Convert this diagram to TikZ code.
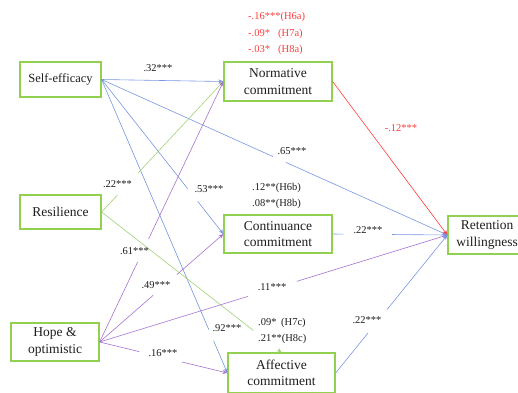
\documentclass[tikz,border=0pt]{standalone}
\usepackage{fontspec}
\setmainfont{Liberation Serif}
\newfontfamily\tnr{Liberation Serif}
\usetikzlibrary{calc,arrows.meta}
\definecolor{boxgreen}{RGB}{146,208,80}
\definecolor{lblue}{RGB}{120,150,225}
\definecolor{lpurple}{RGB}{165,115,210}
\definecolor{lgreen}{RGB}{160,210,115}
\definecolor{lred}{RGB}{255,60,60}
\definecolor{txt}{RGB}{30,30,30}
\newcommand\gapd[5]{%
  \draw[lnk,#1] (#2) -- ($(#2)!#4!(#3)$);
  \draw[lnk,#1,arr] ($(#2)!#5!(#3)$) -- (#3);
}
\begin{document}
\begin{tikzpicture}[x=1pt,y=-1pt,
  varbox/.style={draw=boxgreen, line width=1.2pt, fill=white, inner sep=0pt,
    align=center, font=\tnr\fontsize{13.5}{16.5}\selectfont, text=txt},
  coef/.style={font=\tnr\fontsize{10.5}{12}\selectfont, text=txt, inner sep=0pt},
  arr/.style={-{Stealth[length=5pt,width=4pt]}},
  lnk/.style={line width=0.6pt}]
\useasboundingbox (0,0) rectangle (518,392);
\clip (0,0) rectangle (518,392);

\node[varbox, minimum width=81pt, minimum height=35pt, font=\tnr\fontsize{12.5}{15}\selectfont] (se) at (60.5,79.5) {Self-efficacy};
\node[varbox, minimum width=81pt, minimum height=34pt] (re) at (60.5,212) {Resilience};
\node[varbox, minimum width=88pt, minimum height=38pt] (ho) at (55,342) {Hope \&\\optimistic};
\node[varbox, minimum width=108pt, minimum height=39pt] (no) at (278,81.5) {Normative\\commitment};
\node[varbox, minimum width=108pt, minimum height=38pt] (co) at (278,234) {Continuance\\commitment};
\node[varbox, minimum width=107pt, minimum height=40pt] (af) at (281.5,373) {Affective\\commitment};
\node[varbox, minimum width=78pt, minimum height=38pt] (rw) at (487,235) {Retention\\willingness};

\draw[lnk,lblue,arr] (se.east) -- (no.west);
\gapd{lblue}{se.east}{co.west}{0.707}{0.789}
\gapd{lblue}{se.east}{rw.west}{0.496}{0.533}
\gapd{lblue}{se.east}{af.west}{0.852}{0.890}
\gapd{lgreen}{re.east}{no.west}{0.13}{0.30}
\gapd{lgreen}{re.east}{af.north}{0.844}{0.983}
\gapd{lpurple}{ho.east}{no.west}{0.307}{0.395}
\gapd{lpurple}{ho.east}{co.west}{0.432}{0.624}
\gapd{lpurple}{ho.east}{rw.west}{0.427}{0.567}
\gapd{lpurple}{ho.east}{af.west}{0.31}{0.643}
\draw[lnk,lred,arr] (no.east) -- (rw.west);
\gapd{lblue}{co.east}{rw.west}{0.095}{0.517}
\gapd{lblue}{af.east}{rw.west}{0.29}{0.46}

\node[coef] (l32) at (158,68) {.32***};
\node[coef] (l65) at (292,151) {.65***};
\node[coef] (l53) at (209,189) {.53***};
\node[coef,anchor=west] (h6b) at (252,188) {.12**(H6b)};
\node[coef,anchor=west] (h8b) at (252,204) {.08**(H8b)};
\node[coef] (l22r) at (117.5,184) {.22***};
\node[coef] (l61) at (134.5,251) {.61***};
\node[coef] (l49) at (156,285) {.49***};
\node[coef] (l11) at (272,287) {.11***};
\node[coef] (l92) at (227,328) {.92***};
\node[coef,anchor=west] (h7c) at (258,323) {\makebox[23pt][l]{.09*}(H7c)};
\node[coef,anchor=west] (h8c) at (258,339) {.21**(H8c)};
\node[coef] (l16) at (163,353) {.16***};
\node[coef,text=lred] (l12) at (401,128) {-.12***};
\node[coef] (l22c) at (368,230) {.22***};
\node[coef] (l22a) at (367,320) {.22***};
\node[coef,text=lred,anchor=west] (h6a) at (248,17) {-.16***(H6a)};
\node[coef,text=lred,anchor=west] (h7a) at (248,33.5) {\makebox[30pt][l]{-.09*}(H7a)};
\node[coef,text=lred,anchor=west] (h8a) at (248,50) {\makebox[30pt][l]{-.03*}(H8a)};
\end{tikzpicture}
\end{document}
